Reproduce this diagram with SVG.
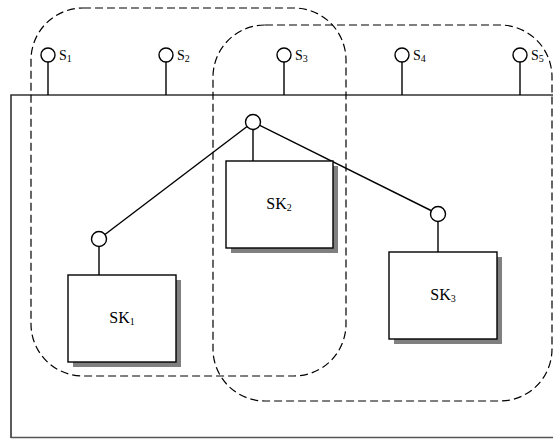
<svg xmlns="http://www.w3.org/2000/svg" width="553" height="439" viewBox="0 0 553 439">
<style>
.ln{stroke:#000;stroke-width:1.4;fill:none}
.dash{stroke:#000;stroke-width:1.2;fill:none;stroke-dasharray:8,4}
.c{stroke:#000;stroke-width:1.4;fill:#fff}
.box{stroke:#000;stroke-width:1.4;fill:#fff}
.sh{fill:#808080}
.t{font-family:"Liberation Serif","Times New Roman",serif;fill:#000}
.s{font-size:14px}
.sk{font-size:16px}
.sub{font-size:10px}
</style>
<rect width="553" height="439" fill="#fff"/>
<g id="bus">
<path d="M11,438 V95 H553" stroke="#333" stroke-width="1.6" fill="none"/>
<path d="M11,437.5 H553" stroke="#555" stroke-width="1.6" fill="none"/>
</g>
<g id="groups">
<rect class="dash" x="31" y="8" width="315" height="368" rx="52" ry="52"/>
<rect class="dash" x="213" y="25" width="339" height="376" rx="52" ry="52"/>
</g>
<g id="connectors">
<line class="ln" x1="48" y1="62" x2="48" y2="95"/>
<line class="ln" x1="166" y1="62" x2="166" y2="95"/>
<line class="ln" x1="284" y1="62" x2="284" y2="95"/>
<line class="ln" x1="402" y1="62" x2="402" y2="95"/>
<line class="ln" x1="520" y1="62" x2="520" y2="95"/>
<line class="ln" x1="253" y1="122" x2="99" y2="239"/>
<line class="ln" x1="253" y1="122" x2="438" y2="214"/>
<line class="ln" x1="253" y1="122" x2="253" y2="161"/>
<line class="ln" x1="99" y1="239" x2="99" y2="275"/>
<line class="ln" x1="438" y1="214" x2="438" y2="252"/>
</g>
<g id="S1"><circle class="c" cx="48" cy="55" r="7"/><text class="t s" x="59" y="60">S<tspan class="sub" dy="2">1</tspan></text></g>
<g id="S2"><circle class="c" cx="166" cy="55" r="7"/><text class="t s" x="177" y="60">S<tspan class="sub" dy="2">2</tspan></text></g>
<g id="S3"><circle class="c" cx="284" cy="55" r="7"/><text class="t s" x="295" y="60">S<tspan class="sub" dy="2">3</tspan></text></g>
<g id="S4"><circle class="c" cx="402" cy="55" r="7"/><text class="t s" x="413" y="60">S<tspan class="sub" dy="2">4</tspan></text></g>
<g id="S5"><circle class="c" cx="520" cy="55" r="7"/><text class="t s" x="531" y="60">S<tspan class="sub" dy="2">5</tspan></text></g>
<g id="hub"><circle class="c" cx="253" cy="122" r="7.5"/></g>
<g id="SK1">
<circle class="c" cx="99" cy="239" r="7.5"/>
<rect class="sh" x="73" y="280" width="108" height="87"/>
<rect class="box" x="68" y="275" width="108" height="87"/>
<text class="t sk" x="122" y="323" text-anchor="middle">SK<tspan class="sub" dy="2">1</tspan></text>
</g>
<g id="SK2">
<rect class="sh" x="231" y="166" width="107" height="87"/>
<rect class="box" x="226" y="161" width="107" height="87"/>
<text class="t sk" x="279" y="209" text-anchor="middle">SK<tspan class="sub" dy="2">2</tspan></text>
</g>
<g id="SK3">
<circle class="c" cx="438" cy="214" r="7.5"/>
<rect class="sh" x="394" y="257" width="108" height="87"/>
<rect class="box" x="389" y="252" width="108" height="87"/>
<text class="t sk" x="443" y="300" text-anchor="middle">SK<tspan class="sub" dy="2">3</tspan></text>
</g>
</svg>
